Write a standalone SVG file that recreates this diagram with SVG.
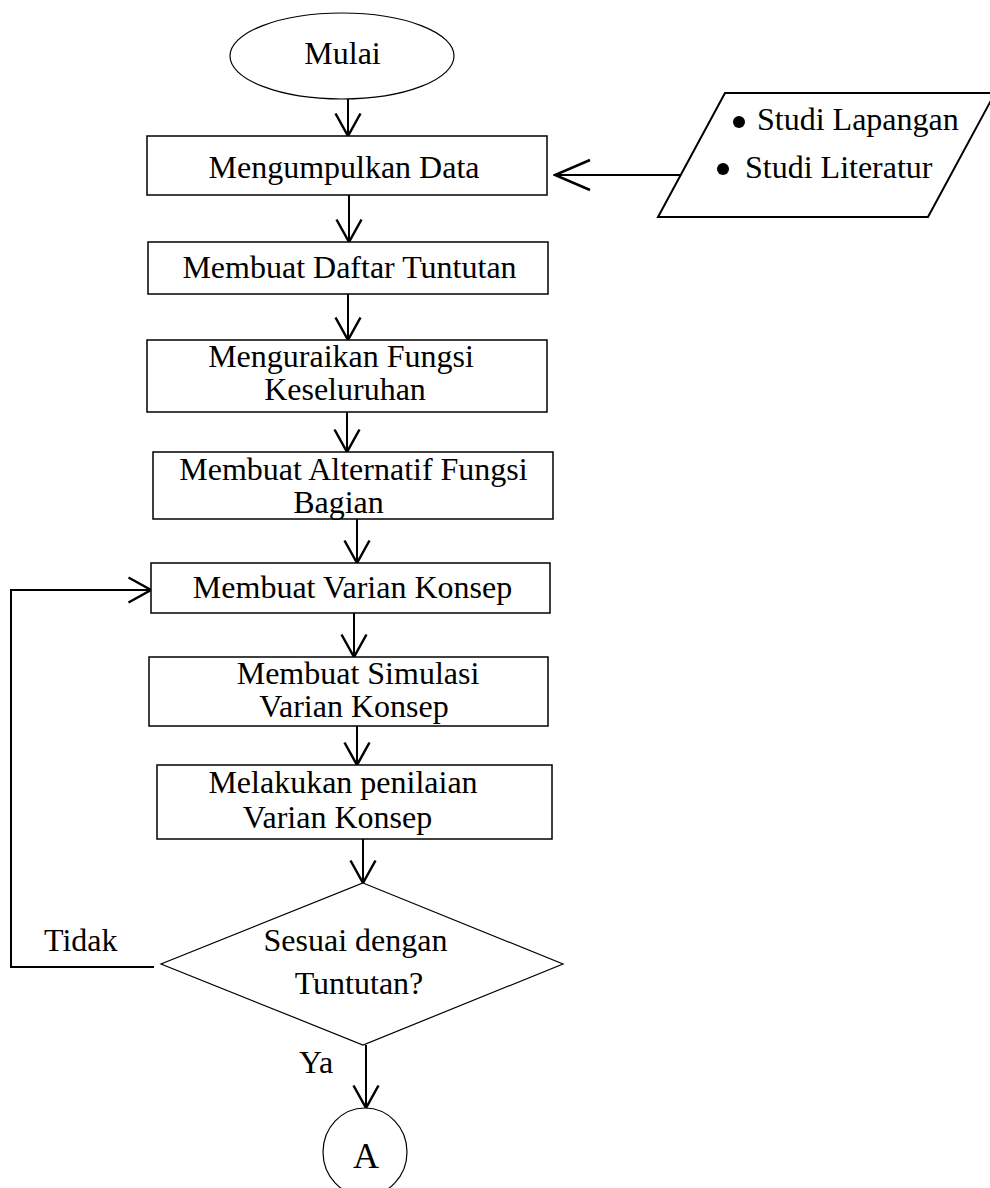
<svg xmlns="http://www.w3.org/2000/svg" width="990" height="1188" viewBox="0 0 990 1188">
<style>
  .shape { fill: #fff; stroke: #000; stroke-width: 1.5; }
  .thin { fill: #fff; stroke: #000; stroke-width: 1.2; }
  .lbl { font-family: "Liberation Serif", "Times New Roman", serif; font-size: 32px; fill: #000; }
  .mid { text-anchor: middle; }
  .conn { fill: none; stroke: #000; stroke-width: 2; }
</style>
<defs>
  <marker id="arr" markerUnits="userSpaceOnUse" markerWidth="30" markerHeight="30" viewBox="-20 -12 22 24" refX="0" refY="0" orient="auto">
    <path d="M-18,-10 L0,0 L-18,10" fill="none" stroke="#000" stroke-width="2"/>
  </marker>
  <marker id="arrBig" markerUnits="userSpaceOnUse" markerWidth="40" markerHeight="40" viewBox="-30 -14 32 28" refX="0" refY="0" orient="auto">
    <path d="M-28,-12 L0,0 L-28,12" fill="none" stroke="#000" stroke-width="2"/>
  </marker>
</defs>
<rect x="0" y="0" width="990" height="1188" fill="#fff"/>

<g id="connectors">
  <line class="conn" x1="348" y1="99" x2="348" y2="136" marker-end="url(#arr)"/>
  <line class="conn" x1="349" y1="195" x2="349" y2="242" marker-end="url(#arr)"/>
  <line class="conn" x1="348" y1="294" x2="348" y2="340" marker-end="url(#arr)"/>
  <line class="conn" x1="347" y1="412" x2="347" y2="452" marker-end="url(#arr)"/>
  <line class="conn" x1="357" y1="519" x2="357" y2="563" marker-end="url(#arr)"/>
  <line class="conn" x1="354" y1="613" x2="354" y2="657" marker-end="url(#arr)"/>
  <line class="conn" x1="357" y1="726" x2="357" y2="765" marker-end="url(#arr)"/>
  <line class="conn" x1="363" y1="839" x2="363" y2="883" marker-end="url(#arr)"/>
  <line class="conn" x1="366" y1="1045" x2="366" y2="1108" marker-end="url(#arr)"/>
  <polyline class="conn" points="154,967 11,967 11,590 151,590" marker-end="url(#arr)"/>
  <line class="conn" x1="680" y1="175" x2="555" y2="175" marker-end="url(#arrBig)"/>
  <text class="lbl" x="44" y="951">Tidak</text>
  <text class="lbl" x="299" y="1073">Ya</text>
</g>

<g id="start">
  <ellipse class="thin" cx="342" cy="56" rx="112" ry="43"/>
  <text class="lbl mid" x="342.5" y="64">Mulai</text>
</g>

<g id="collect">
  <rect class="shape" x="147" y="136" width="400" height="59"/>
  <text class="lbl mid" x="344" y="178">Mengumpulkan Data</text>
</g>

<g id="input">
  <polygon points="725,93 995,93 928,217 658,217" fill="#fff" stroke="#000" stroke-width="2"/>
  <circle cx="739" cy="122" r="6" fill="#000"/>
  <text class="lbl" x="757" y="130">Studi Lapangan</text>
  <circle cx="723" cy="169" r="6" fill="#000"/>
  <text class="lbl" x="745" y="178">Studi Literatur</text>
</g>

<g id="demands">
  <rect class="shape" x="148" y="242" width="400" height="52"/>
  <text class="lbl mid" x="349.5" y="278">Membuat Daftar Tuntutan</text>
</g>

<g id="overall">
  <rect class="shape" x="147" y="340" width="400" height="72"/>
  <text class="lbl mid" x="341" y="367">Menguraikan Fungsi</text>
  <text class="lbl mid" x="345" y="400">Keseluruhan</text>
</g>

<g id="alternatives">
  <rect class="shape" x="153" y="452" width="400" height="67"/>
  <text class="lbl mid" x="353.5" y="480">Membuat Alternatif Fungsi</text>
  <text class="lbl mid" x="338.5" y="513">Bagian</text>
</g>

<g id="variants">
  <rect class="shape" x="151" y="563" width="399" height="50"/>
  <text class="lbl mid" x="352.5" y="598">Membuat Varian Konsep</text>
</g>

<g id="simulation">
  <rect class="shape" x="149" y="657" width="399" height="69"/>
  <text class="lbl mid" x="358" y="684">Membuat Simulasi</text>
  <text class="lbl mid" x="354" y="717">Varian Konsep</text>
</g>

<g id="assessment">
  <rect class="shape" x="157" y="765" width="395" height="74"/>
  <text class="lbl mid" x="343" y="793">Melakukan penilaian</text>
  <text class="lbl mid" x="337.5" y="828">Varian Konsep</text>
</g>

<g id="decision">
  <polygon class="thin" points="363,883 563,964 363,1045 161,964"/>
  <text class="lbl mid" x="355.5" y="951">Sesuai dengan</text>
  <text class="lbl mid" x="359" y="994">Tuntutan?</text>
</g>

<g id="connectorA">
  <ellipse class="thin" cx="365" cy="1152" rx="42" ry="44"/>
  <text class="lbl mid" x="366" y="1168" style="font-size:36px">A</text>
</g>
</svg>
